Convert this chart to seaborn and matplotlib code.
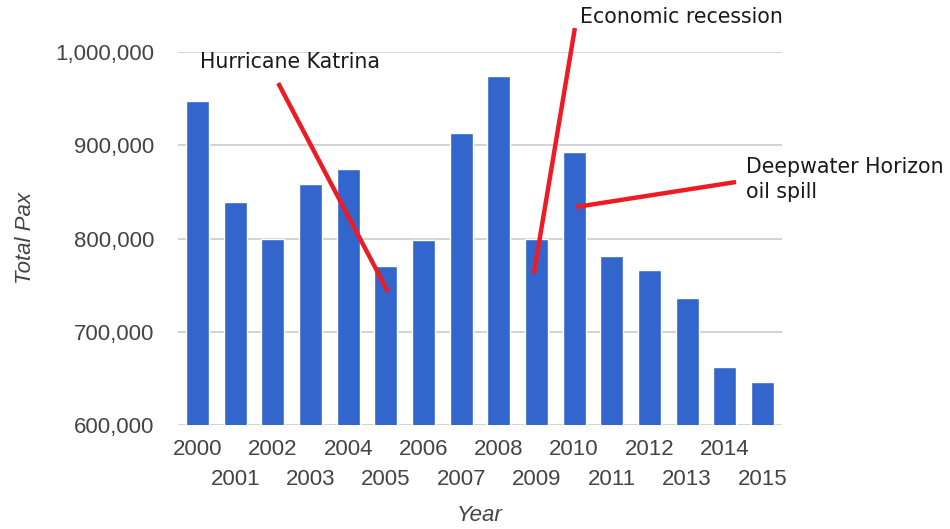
import matplotlib
matplotlib.use("Agg")
import matplotlib.pyplot as plt
import seaborn as sns
import pandas as pd

years = [str(y) for y in range(2000, 2016)]
total_pax = [947000, 839000, 800000, 858000, 874000, 771000, 798000, 913000,
             974000, 800000, 893000, 781000, 766000, 736000, 662000, 646000]
y_ticks = [600000, 700000, 800000, 900000, 1000000]

ann_texts = ["Hurricane Katrina", "Economic recession", "Deepwater Horizon\noil spill"]
ann_text_pos = [(0.07, 989000), (10.15, 1037500), (14.56, 863000)]
ann_line_start = [(2.14, 966700), (10.02, 1025700), (14.30, 860600)]
ann_line_end = [(5.06, 742600), (8.93, 762100), (10.05, 833800)]

df = pd.DataFrame({"Year": years, "Total Pax": total_pax})

sns.set_style("white")
fig = plt.figure(figsize=(9.5, 5.29), dpi=100)
ax = fig.add_axes([178/950, 1-425/529, (782-178)/950, (425-52)/529])

sns.barplot(data=df, x="Year", y="Total Pax", order=years, color="#3366CC",
            saturation=1, width=0.61, ax=ax, zorder=2)

ax.set_ylim(600000, 1000000)
ax.set_xlim(-0.52, 15.52)
ax.set_yticks(y_ticks)
ax.set_yticklabels([f"{v:,}" for v in y_ticks], family="Liberation Sans",
                   fontsize=16, color="#444444")
ax.yaxis.grid(True, color="#cccccc", linewidth=1.2, zorder=0)
ax.set_axisbelow(True)
for s in ax.spines.values():
    s.set_visible(False)
ax.tick_params(axis="y", length=0, pad=17)

even_pos = list(range(0, len(years), 2))
odd_pos = list(range(1, len(years), 2))
ax.set_xticks(even_pos)
ax.set_xticklabels([years[i] for i in even_pos], family="Liberation Sans",
                   fontsize=16, color="#444444")
ax.set_xticks(odd_pos, minor=True)
ax.set_xticklabels([years[i] for i in odd_pos], minor=True,
                   family="Liberation Sans", fontsize=16, color="#444444")
ax.tick_params(axis="x", which="major", length=0, pad=10)
ax.tick_params(axis="x", which="minor", length=0, pad=31.5)

ax.set_xlabel("Year", family="Liberation Sans", fontsize=16, style="italic",
              color="#444444", labelpad=11)
ax.set_ylabel("Total Pax", family="Liberation Sans", fontsize=16, style="italic",
              color="#444444", labelpad=14)

for txt, tp, ls, le in zip(ann_texts, ann_text_pos, ann_line_start, ann_line_end):
    ax.plot([ls[0], le[0]], [ls[1], le[1]], color="#ED1C24", linewidth=3.2,
            solid_capstyle="butt", zorder=5, clip_on=False)
    ax.text(tp[0], tp[1], txt, ha="left", va="center", fontsize=14.8,
            family="DejaVu Sans", color="#1a1a1a", zorder=6, clip_on=False,
            linespacing=1.3)

fig.savefig("out.png", dpi=100)
